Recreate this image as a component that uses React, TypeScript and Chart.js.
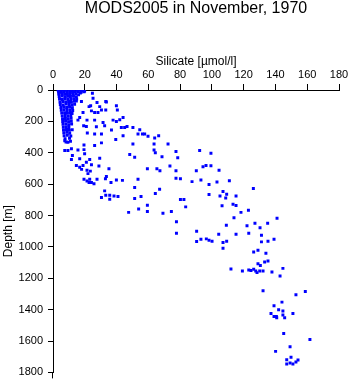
import { useEffect, useRef } from "react";
import { Chart, registerables } from "chart.js";

Chart.register(...registerables);

const TITLE = "MODS2005 in November, 1970";
const X_TITLE = "Silicate [µmol/l]";
const Y_TITLE = "Depth [m]";

const silicateTicks = [0, 20, 40, 60, 80, 100, 120, 140, 160, 180];
const depthTicks = [0, 200, 400, 600, 800, 1000, 1200, 1400, 1600, 1800];

// [silicate µmol/l, depth m] — dense near-surface cluster
const surfaceSamples: [number, number][] = [
  [3.2, 0], [4.8, 2], [6.5, 0], [8.1, 1], [9.9, 0], [11.6, 3], [13.3, 0], [15.1, 2], [16.8, 0], [18.6, 4],
  [3.5, 12], [5.3, 14], [7.0, 11], [8.8, 13], [10.5, 10], [12.3, 15], [14.0, 12], [15.8, 9], [17.7, 14], [19.6, 11],
  [3.6, 26], [5.5, 24], [7.3, 27], [9.1, 25], [10.8, 28], [12.6, 23], [14.4, 26], [16.1, 30],
  [3.9, 41], [5.7, 39], [7.5, 43], [9.2, 40], [11.0, 42], [12.9, 38], [14.7, 44],
  [4.1, 57], [5.9, 60], [7.7, 56], [9.5, 59], [11.3, 61], [13.1, 55], [14.9, 58],
  [4.4, 76], [6.2, 73], [8.0, 77], [9.8, 74], [11.6, 78], [13.4, 72],
  [4.6, 92], [6.4, 95], [8.3, 90], [10.1, 93], [11.9, 96], [13.6, 91],
  [5.0, 111], [6.8, 108], [8.6, 112], [10.4, 109], [12.2, 113],
  [5.2, 129], [7.0, 126], [8.9, 131], [10.7, 127], [12.4, 130],
  [5.5, 147], [7.3, 145], [9.1, 149], [10.9, 144], [12.0, 150],
  [5.8, 165], [7.6, 162], [9.4, 167], [11.2, 163],
  [6.0, 183], [7.8, 181], [9.6, 185], [11.4, 180],
  [6.1, 201], [7.9, 198], [9.8, 203], [11.5, 199],
  [6.3, 219], [8.1, 216], [9.9, 221], [11.7, 217],
  [6.5, 237], [8.3, 234], [10.0, 239],
  [6.6, 255], [8.5, 252], [10.3, 257], [12.1, 253],
  [6.8, 273], [8.7, 270], [10.5, 275],
  [7.0, 291], [9.0, 288], [11.2, 293],
  [7.6, 311], [10.4, 308],
  [8.2, 331], [11.0, 327],
];

// [silicate µmol/l, depth m] — upper scatter (0–950 m)
const upperSamples: [number, number][] = [
  [24.8, 21], [25.2, 53], [17.9, 6], [19.9, 6], [17.2, 19], [14.7, 70], [17.9, 74], [27.7, 80], [33.2, 74],
  [22.7, 106], [23.7, 101], [24.2, 133], [26.2, 144], [29.4, 106], [30.5, 127], [28.3, 144], [33.2, 127],
  [33.6, 76], [39.9, 101], [40.5, 127], [18.9, 144], [16.8, 175], [15.7, 192], [21.4, 192], [26.2, 192],
  [19.3, 228], [21.0, 232], [27.3, 234], [31.5, 207], [32.5, 228], [37.8, 192], [39.9, 201], [42.0, 190],
  [44.1, 175], [36.8, 255], [43.0, 239], [45.1, 239], [46.6, 232], [50.3, 239], [53.5, 280], [54.6, 253],
  [56.3, 280], [57.7, 280], [59.8, 295], [64.0, 306], [66.5, 291], [21.6, 274], [26.2, 280], [30.5, 280],
  [44.1, 291], [39.5, 316], [50.3, 344], [48.3, 411], [51.4, 428], [7.4, 323], [9.4, 333], [19.5, 350],
  [26.2, 354], [30.5, 337], [7.4, 386], [9.4, 386], [11.6, 375], [12.2, 418], [15.7, 382], [19.5, 380],
  [19.9, 407], [16.8, 438], [11.6, 443], [23.1, 443], [29.4, 435], [24.2, 476], [28.9, 485], [14.7, 481],
  [16.8, 492], [18.9, 481], [21.4, 512], [22.0, 533], [35.2, 502], [21.0, 460], [18.0, 506], [23.5, 517],
  [19.5, 569], [21.4, 580], [23.1, 569], [24.2, 590], [22.7, 590], [25.8, 597], [27.7, 569], [33.0, 565],
  [33.6, 552], [36.5, 590], [39.9, 574], [43.7, 576], [51.4, 622], [53.5, 569], [32.5, 643], [33.2, 671],
  [35.7, 671], [38.4, 675], [40.9, 679], [30.5, 685], [35.7, 696], [51.4, 692], [47.6, 780], [53.9, 759],
  [55.4, 679], [64.4, 660], [67.1, 633], [59.4, 734], [59.4, 774], [69.2, 786], [74.5, 774], [83.5, 745],
  [77.7, 840], [77.7, 913],
  [63.6, 344], [72.4, 344], [63.6, 382], [64.4, 400], [68.6, 426], [77.4, 392], [78.5, 432], [92.3, 386],
  [99.4, 403], [59.4, 502], [65.4, 502], [67.3, 514], [73.6, 485], [77.4, 514], [90.2, 514], [94.4, 489],
  [96.3, 481], [99.4, 483], [104.5, 512], [77.4, 563], [80.2, 565], [87.5, 584], [93.1, 574], [98.2, 603],
  [103.2, 586], [111.0, 578], [126.1, 628], [80.2, 698], [82.4, 698], [98.2, 666], [105.1, 675], [107.0, 647],
  [109.3, 664], [108.7, 688], [115.2, 675], [106.4, 738], [113.3, 728], [115.2, 736], [118.3, 780], [123.0, 767],
  [109.1, 862], [113.9, 814], [122.1, 865], [127.1, 850], [130.3, 878], [135.1, 850], [141.0, 818],
];

// [silicate µmol/l, depth m] — deep scatter (900–1750 m)
const deepSamples: [number, number][] = [
  [90.4, 900], [104.3, 919], [115.2, 919], [123.2, 913], [131.2, 926], [90.4, 966], [93.1, 951], [96.5, 949],
  [98.2, 957], [100.1, 964], [107.0, 972], [109.3, 964], [107.0, 1008], [131.2, 968], [135.3, 964], [139.1, 951],
  [126.3, 1033], [129.0, 1021], [134.0, 1040], [129.0, 1107], [130.5, 1118], [133.2, 1096], [135.3, 1090],
  [112.0, 1141], [119.2, 1153], [123.2, 1147], [124.6, 1150], [126.3, 1143], [127.6, 1153], [128.4, 1164],
  [130.1, 1153], [132.2, 1153], [137.8, 1160], [142.9, 1185], [144.7, 1137], [132.2, 1280], [152.9, 1305],
  [158.8, 1284], [144.1, 1352], [139.1, 1375], [142.0, 1400], [144.7, 1409], [144.7, 1434], [145.8, 1451],
  [137.2, 1425], [139.1, 1443], [140.6, 1443], [140.8, 1451], [151.0, 1424], [145.2, 1552], [161.7, 1590],
  [149.2, 1637], [140.1, 1666], [147.1, 1719], [149.8, 1704], [154.2, 1721], [152.9, 1734], [147.1, 1746],
  [149.2, 1740], [151.0, 1746],
];

const FONT = '"Liberation Sans", Arial, Helvetica, sans-serif';

export default function App() {
  const ref = useRef<HTMLCanvasElement>(null);

  useEffect(() => {
    const canvas = ref.current;
    if (!canvas) return;

    const titlePlugin = {
      id: "mainTitle",
      afterDraw(chart: any) {
        const c = chart.ctx;
        const { left, right, bottom } = chart.chartArea;
        c.save();
        c.font = `16px ${FONT}`;
        c.fillStyle = "#000";
        c.textAlign = "center";
        c.textBaseline = "alphabetic";
        c.fillText(TITLE, (left + right) / 2, 13);
        // the depth axis line runs slightly past its last tick
        c.strokeStyle = "#000";
        c.lineWidth = 1;
        c.beginPath();
        const x = Math.round(left) - 0.5;
        c.moveTo(x, bottom);
        c.lineTo(x, bottom + 6);
        c.stroke();
        c.restore();
      },
    };

    const points = [...surfaceSamples, ...upperSamples, ...deepSamples].map(([x, y]) => ({ x, y }));

    const chart = new Chart(canvas, {
      type: "scatter",
      data: {
        datasets: [
          {
            data: points,
            backgroundColor: "#0000ff",
            borderColor: "#0000ff",
            borderWidth: 0,
            pointStyle: "rect",
            pointRadius: 2.1,
            pointHoverRadius: 2.1,
          },
        ],
      },
      options: {
        responsive: false,
        animation: false,
        devicePixelRatio: 1,
        layout: { padding: { top: 0, left: 0, right: 12, bottom: 9.5 } },
        plugins: {
          legend: { display: false },
          tooltip: { enabled: false },
          title: { display: false },
        },
        scales: {
          x: {
            type: "linear",
            position: "top",
            min: 0,
            max: 180,
            afterBuildTicks: (s: any) => {
              s.ticks = silicateTicks.map((v) => ({ value: v }));
            },
            afterFit: (s: any) => {
              s.height = 90;
            },
            grid: { drawOnChartArea: false, tickLength: 6, color: "#000", tickColor: "#000", lineWidth: 1 },
            border: { display: true, color: "#000", width: 1 },
            ticks: {
              color: "#000",
              font: { family: FONT, size: 11 },
              padding: 2,
              maxRotation: 0,
              autoSkip: false,
              callback: (v: any) => String(v),
            },
            title: {
              display: true,
              text: X_TITLE,
              color: "#000",
              font: { family: FONT, size: 12 },
              padding: { top: 54, bottom: 0 },
            },
          },
          y: {
            type: "linear",
            position: "left",
            reverse: true,
            min: 0,
            max: 1800,
            afterBuildTicks: (s: any) => {
              s.ticks = depthTicks.map((v) => ({ value: v }));
            },
            afterFit: (s: any) => {
              s.width = 53;
            },
            grid: { drawOnChartArea: false, tickLength: 5, color: "#000", tickColor: "#000", lineWidth: 1 },
            border: { display: true, color: "#000", width: 1 },
            ticks: {
              color: "#000",
              font: { family: FONT, size: 11 },
              padding: 5,
              autoSkip: false,
              callback: (v: any) => String(v),
            },
            title: {
              display: true,
              text: Y_TITLE,
              color: "#000",
              font: { family: FONT, size: 12 },
              padding: { top: 1, bottom: 0 },
            },
          },
        },
      },
      plugins: [titlePlugin],
    });

    return () => chart.destroy();
  }, []);

  return (
    <canvas
      ref={ref}
      width={351}
      height={384}
      style={{ position: "absolute", left: 0, top: 0, width: 351, height: 384 }}
    />
  );
}
